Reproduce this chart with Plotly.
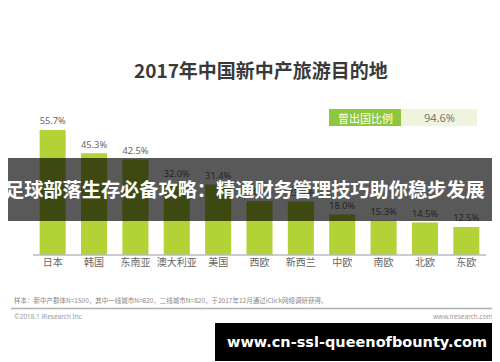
import plotly.graph_objects as go

categories = ["日本", "韩国", "东南亚", "澳大利亚", "美国", "西欧", "新西兰", "中欧", "南欧", "北欧", "东欧"]
values = [55.7, 45.3, 42.5, 32.0, 31.4, 24.0, 23.8, 18.0, 15.3, 14.5, 12.5]
labels = [f"{v:.1f}%" for v in values]

title_text = "2017年中国新中产旅游目的地"
legend_label = "曾出国比例"
legend_value = "94.6%"
banner_text = "足球部落生存必备攻略：精通财务管理技巧助你稳步发展"
footnote = "样本：新中产群体N=1500，其中一线城市N=620，二线城市N=820，于2017年12月通过iClick网络调研获得。"
copyright_text = "©2018.1 iResearch Inc"
site_text = "www.iresearch.com.cn"
watermark = "www.cn-ssl-queenofbounty.com"

W, H = 500, 362
L, R, T, B = 24, 21, 100, 115
PW, PH = W - L - R, H - T - B
YMAX = 65.5

def px(x):
    return (x - L) / PW

def py(y):
    return (H - B - y) / PH

CJK = "Noto Sans CJK SC"

fig = go.Figure()
fig.add_trace(go.Bar(
    x=categories, y=values, text=labels, textposition="outside",
    marker=dict(color="#b3d236", line=dict(width=0)),
    width=0.63,
    textfont=dict(family="Noto Sans", size=10, color="#666666"),
    cliponaxis=False,
    hoverinfo="skip",
))

shapes = []
annotations = []

# axis baseline
shapes.append(dict(type="line", xref="paper", yref="paper", x0=px(25), x1=px(478), y0=0, y1=0,
                   line=dict(color="#bbbbbb", width=1.5), layer="above"))

# legend boxes
shapes.append(dict(type="rect", xref="paper", yref="paper", x0=px(321), x1=px(393), y0=py(118), y1=py(101),
                   fillcolor="#8dc63f", line=dict(width=0), layer="above"))
shapes.append(dict(type="rect", xref="paper", yref="paper", x0=px(393), x1=px(469), y0=py(118), y1=py(101),
                   fillcolor="#eef5dc", line=dict(width=0), layer="above"))
annotations.append(dict(text=legend_label, xref="paper", yref="paper", x=px(357), y=py(109.5),
                        showarrow=False, font=dict(family=CJK, size=11, color="white"),
                        xanchor="center", yanchor="middle"))
annotations.append(dict(text=legend_value, xref="paper", yref="paper", x=px(431), y=py(109.5),
                        showarrow=False, font=dict(family="Noto Sans", size=11, color="#777777"),
                        xanchor="center", yanchor="middle"))

# title
annotations.append(dict(text=title_text, xref="paper", yref="paper", x=px(253), y=py(62),
                        showarrow=False, font=dict(family=CJK, size=19, color="#3a3a3a", weight="bold"),
                        xanchor="center", yanchor="middle"))

# footer
annotations.append(dict(text=footnote, xref="paper", yref="paper", x=px(4), y=py(292),
                        showarrow=False, font=dict(family=CJK, size=6.5, color="#888888"),
                        xanchor="left", yanchor="middle"))
shapes.append(dict(type="line", xref="paper", yref="paper", x0=px(3), x1=px(496), y0=py(300.5), y1=py(300.5),
                   line=dict(color="#b0b0b0", width=1.5)))
annotations.append(dict(text=copyright_text, xref="paper", yref="paper", x=px(4), y=py(308),
                        showarrow=False, font=dict(family="Noto Sans", size=6.5, color="#999999"),
                        xanchor="left", yanchor="middle"))
annotations.append(dict(text=site_text, xref="paper", yref="paper", x=px(496), y=py(308),
                        showarrow=False, font=dict(family="Noto Sans", size=6.5, color="#999999"),
                        xanchor="right", yanchor="middle"))

# banner overlay
shapes.append(dict(type="rect", xref="paper", yref="paper", x0=px(-5), x1=px(505), y0=py(213), y1=py(150),
                   fillcolor="rgba(0,0,0,0.65)", line=dict(width=0), layer="above"))
annotations.append(dict(text=banner_text, xref="paper", yref="paper", x=px(-4), y=py(181),
                        showarrow=False, font=dict(family=CJK, size=19.2, color="white", weight="bold"),
                        xanchor="left", yanchor="middle", borderpad=0))

# watermark box
shapes.append(dict(type="rect", xref="paper", yref="paper", x0=px(207), x1=px(491), y0=py(353), y1=py(315),
                   fillcolor="black", line=dict(width=0), layer="above"))
annotations.append(dict(text=watermark, xref="paper", yref="paper", x=px(349), y=py(334),
                        showarrow=False, font=dict(family="DejaVu Sans", size=14.5, color="white", weight="bold"),
                        xanchor="center", yanchor="middle"))

fig.update_layout(
    width=W, height=H,
    margin=dict(l=L, r=R, t=T, b=B, pad=0),
    paper_bgcolor="white", plot_bgcolor="white",
    showlegend=False,
    bargap=0.37,
    xaxis=dict(type="category", range=[-0.5, len(categories) - 0.5], showgrid=False, zeroline=False,
               showline=False, ticks="", tickfont=dict(family=CJK, size=10, color="#666666"),
               ticklabelstandoff=0, fixedrange=True),
    yaxis=dict(range=[0, YMAX], visible=False, fixedrange=True),
    shapes=shapes,
    annotations=annotations,
)

fig.write_html("out.html", config={"displayModeBar": False})
